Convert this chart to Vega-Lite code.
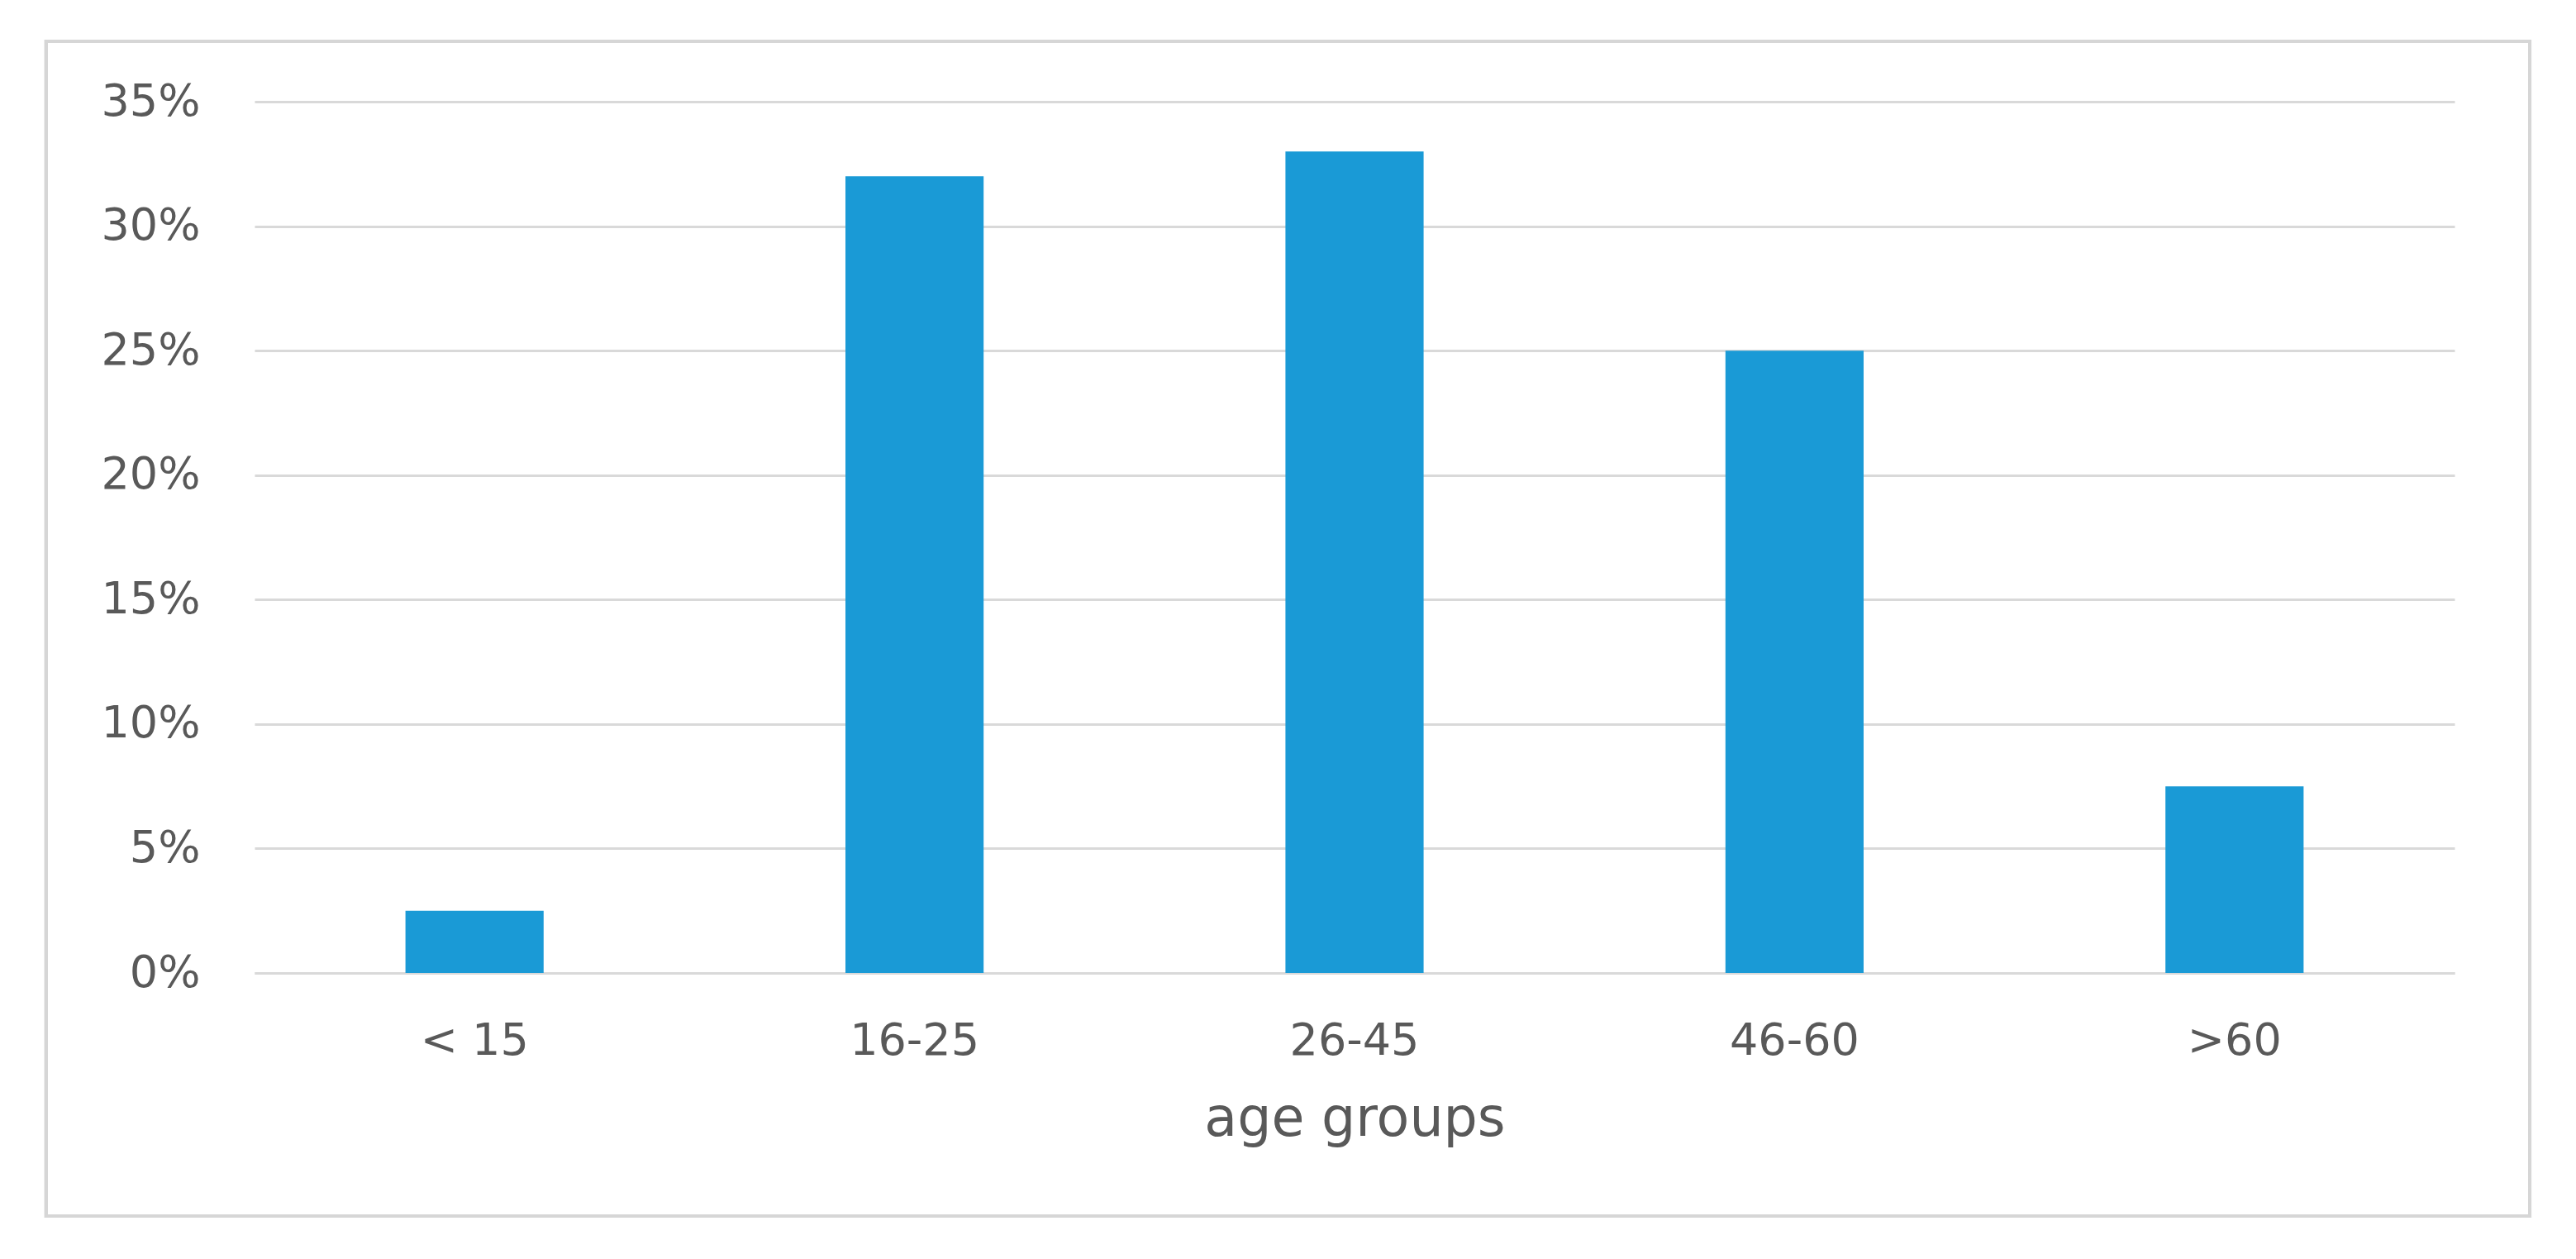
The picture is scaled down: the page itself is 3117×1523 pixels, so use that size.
{
  "$schema": "https://vega.github.io/schema/vega-lite/v6.json",
  "autosize": {"type": "none"},
  "width": 2662,
  "height": 1054,
  "padding": {"left": 308, "top": 123, "right": 147, "bottom": 346},
  "background": "white",
  "config": {
    "view": {"stroke": null},
    "font": "DejaVu Sans",
    "axis": {"labelFont": "DejaVu Sans", "titleFont": "DejaVu Sans", "labelColor": "#595959", "titleColor": "#595959"}
  },
  "data": {
    "values": [
      {"age": "< 15", "share": 0.025},
      {"age": "16-25", "share": 0.32},
      {"age": "26-45", "share": 0.33},
      {"age": "46-60", "share": 0.25},
      {"age": ">60", "share": 0.075}
    ]
  },
  "layer": [
    {
      "mark": {"type": "bar", "color": "#1a9ad6"},
      "encoding": {
        "x": {
          "field": "age", "type": "nominal", "sort": null,
          "scale": {"paddingInner": 0.686, "paddingOuter": 0.343},
          "axis": {
            "title": "age groups", "labelAngle": 0, "labelFontSize": 54, "titleFontSize": 65,
            "titleFontWeight": "normal", "labelPadding": 55, "titlePadding": 36,
            "ticks": false, "domain": true, "domainColor": "#d9d9d9", "domainWidth": 3
          }
        },
        "y": {
          "field": "share", "type": "quantitative",
          "scale": {"domain": [0, 0.35], "nice": false},
          "axis": {
            "title": null, "format": ".0%", "values": [0, 0.05, 0.1, 0.15, 0.2, 0.25, 0.3, 0.35],
            "labelFontSize": 54, "labelPadding": 66, "ticks": false, "domain": false,
            "gridColor": "#d9d9d9", "gridWidth": 3
          }
        }
      }
    },
    {
      "mark": {"type": "rect", "fill": null, "stroke": "#d6d6d6", "strokeWidth": 4, "clip": false},
      "encoding": {
        "x": {"datum": -0.0947, "type": "quantitative", "scale": {"domain": [0, 1], "nice": false, "zero": false}, "axis": null},
        "x2": {"datum": 1.0342},
        "y": {"datum": -0.2789, "type": "quantitative", "scale": {"domain": [0, 1], "nice": false, "zero": false}, "axis": null},
        "y2": {"datum": 1.0693}
      }
    }
  ],
  "resolve": {"scale": {"x": "independent", "y": "independent"}}
}
